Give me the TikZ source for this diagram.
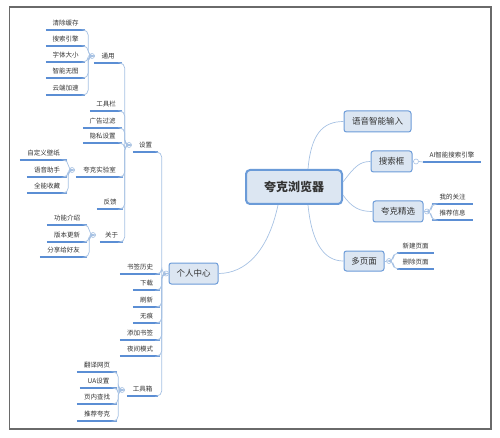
\documentclass[tikz,border=0pt]{standalone}
\usepackage{fontspec}
\newfontfamily\cjk{Noto Sans CJK SC}
\definecolor{linec}{HTML}{A6C1E3}
\definecolor{ulc}{HTML}{5B8ED4}
\definecolor{boxc}{HTML}{6B9BD8}
\definecolor{boxf}{HTML}{DCE6F2}
\definecolor{txt}{HTML}{333333}
\definecolor{framec}{HTML}{6A6A6A}
\newcommand\lf[5]{%
  \node[leaf,minimum width={#4-#3}] (#1) at ({(#3+#4)/2},#5) {#2};
  \draw[uline] (#1.south west) -- (#1.south east);}
\begin{document}
\begin{tikzpicture}[x=1pt,y=-1pt,
  conn/.style={draw=linec,line width=0.7pt},
  elbow/.style={conn,rounded corners=5pt},
  uline/.style={draw=ulc,line width=1.3pt},
  leaf/.style={font=\cjk\fontsize{6.5}{7}\selectfont,text=txt,inner xsep=0pt,
    inner ysep=3pt,text height=5pt,text depth=1pt,anchor=south},
  box/.style={draw=boxc,fill=boxf,line width=1pt,rounded corners=2.5pt,
    font=\cjk\fontsize{8.5}{10}\selectfont,text=txt,inner sep=0pt},
  hub/.style={circle,draw=linec,fill=white,line width=0.6pt,inner sep=0pt,
    minimum size=5pt},
  framebox/.style={draw=framec,line width=1.3pt}]
\useasboundingbox (0,0) rectangle (500,438);
\draw[framebox] (9.5,7) rectangle (491,429);

% main boxes
\node[box,minimum width=96,minimum height=34,line width=2pt,rounded corners=4pt,
  font=\cjk\bfseries\fontsize{12}{14}\selectfont] (c) at (294,187) {夸克浏览器};
\node[box,minimum width=67,minimum height=21] (yy) at (377.5,121.5) {语音智能输入};
\node[box,minimum width=41,minimum height=21] (ss) at (391.5,161.5) {搜索框};
\node[box,minimum width=50,minimum height=21] (jx) at (398,211.5) {夸克精选};
\node[box,minimum width=40,minimum height=20] (dy) at (364,261) {多页面};
\node[box,minimum width=49,minimum height=21] (gr) at (193.5,273.5) {个人中心};

% central connectors
\draw[conn] ([xshift=14pt]c.north) .. controls (311,135) and (322,121.5) .. (yy.west);
\draw[conn] ([yshift=5pt]c.east) .. controls (355,166) and (360,161.5) .. (ss.west);
\draw[conn] ([yshift=-8pt]c.east) .. controls (352,208) and (360,211.5) .. (jx.west);
\draw[conn] ([xshift=14pt]c.south) .. controls (312,245) and (325,261) .. (dy.west);
\draw[conn] ([xshift=-16pt]c.south) .. controls (268,252) and (245,273.5) .. (gr.east);

% right side leaves
\lf{ai}{AI智能搜索引擎}{423}{481}{162}
\lf{wd}{我的关注}{432}{473}{204}
\lf{tj}{推荐信息}{432}{473}{220}
\lf{xj}{新建页面}{397}{434}{253}
\lf{sc}{删除页面}{397}{434}{269}

\node[hub] (hSS) at (416,161.5) {};
\draw[conn] (ss.east) -- (hSS.west);
\draw[conn] (hSS.east) -- (ai.south west);

\node[hub] (hJX) at (427,211.5) {};
\draw[conn] (jx.east) -- (hJX.west);
\foreach \n in {wd,tj} \draw[elbow] (hJX.east) -- ++(1.5,0) |- (\n.south west);

\node[hub] (hDY) at (389,261) {};
\draw[conn] (dy.east) -- (hDY.west);
\foreach \n in {xj,sc} \draw[elbow] (hDY.east) -- ++(1.5,0) |- (\n.south west);

% 个人中心 children
\lf{sz}{设置}{133}{158}{152}
\lf{sq}{书签历史}{120}{160}{274}
\lf{xz}{下载}{133}{160}{290}
\lf{sx}{刷新}{133}{160}{307}
\lf{wh}{无痕}{133}{160}{323}
\lf{tjsq}{添加书签}{120}{160}{340}
\lf{yj}{夜间模式}{120}{160}{356}
\lf{gjx}{工具箱}{127}{158}{396}
\node[hub] (hGR) at (166,273.5) {};
\draw[conn] (gr.west) -- (hGR.east);
\foreach \n in {sz,sq,xz,sx,wh,tjsq,yj,gjx}
  \draw[elbow] (hGR.west) -- ++(-1.5,0) |- (\n.south east);

% 设置 children
\lf{ty}{通用}{94}{122}{63}
\lf{gjl}{工具栏}{90}{122}{111}
\lf{gg}{广告过滤}{83}{122}{128}
\lf{ys}{隐私设置}{83}{122}{143}
\lf{sys}{夸克实验室}{76}{123}{177}
\lf{fk}{反馈}{97}{123}{209}
\lf{gy}{关于}{100}{123}{242}
\node[hub] (hSZ) at (129,145) {};
\foreach \n in {ty,gjl,gg,ys,sys,fk,gy}
  \draw[elbow] (hSZ.west) -- ++(-1.5,0) |- (\n.south east);

% 通用 children
\lf{qc}{清除缓存}{46}{85}{30}
\lf{ssyq}{搜索引擎}{46}{85}{46}
\lf{zt}{字体大小}{46}{85}{62}
\lf{zn}{智能无图}{46}{85}{78}
\lf{yd}{云端加速}{46}{85}{95}
\node[hub] (hTY) at (92,56) {};
\foreach \n in {qc,ssyq,zt,zn,yd}
  \draw[elbow] (hTY.west) -- ++(-1,0) |- (\n.south east);

% 夸克实验室 children
\lf{zdy}{自定义壁纸}{20}{67}{160}
\lf{yyzs}{语音助手}{27}{67}{177}
\lf{qn}{全能收藏}{27}{67}{193}
\node[hub] (hLab) at (72,170) {};
\foreach \n in {zdy,yyzs,qn}
  \draw[elbow] (hLab.west) -- ++(-1,0) |- (\n.south east);

% 关于 children
\lf{gn}{功能介绍}{47}{87}{225}
\lf{bb}{版本更新}{47}{87}{242}
\lf{fx}{分享给好友}{40}{87}{257}
\node[hub] (hGY) at (93,235) {};
\foreach \n in {gn,bb,fx}
  \draw[elbow] (hGY.west) -- ++(-1,0) |- (\n.south east);

% 工具箱 children
\lf{fy}{翻译网页}{77}{117}{372}
\lf{ua}{UA设置}{80}{117}{388}
\lf{yn}{页内查找}{77}{117}{404}
\lf{tjk}{推荐夸克}{77}{117}{421}
\node[hub] (hGJ) at (122,390) {};
\foreach \n in {fy,ua,yn,tjk}
  \draw[elbow] (hGJ.west) -- ++(-1,0) |- (\n.south east);
\end{tikzpicture}
\end{document}
